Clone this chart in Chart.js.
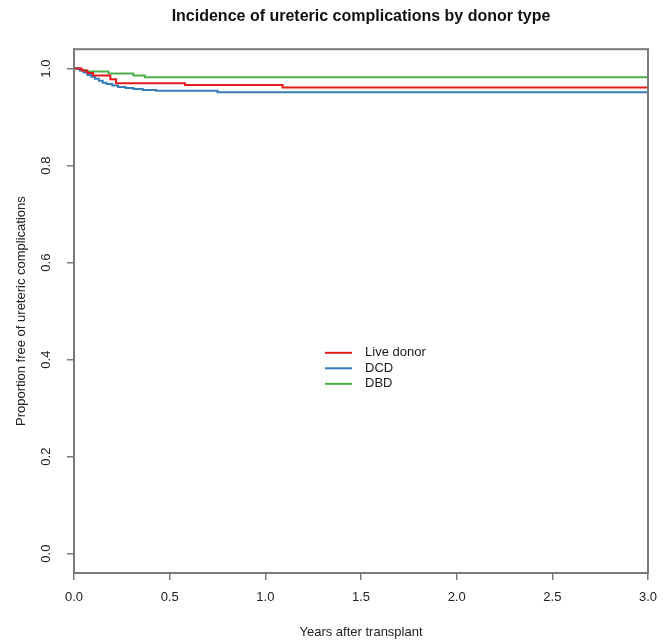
<!DOCTYPE html>
<html>
<head>
<meta charset="utf-8">
<script src="https://cdn.jsdelivr.net/npm/chart.js@4"></script>
<style>
  html, body { margin: 0; padding: 0; background: #fff; }
  #wrap { width: 669px; height: 640px; }
</style>
</head>
<body>
<div id="wrap"><canvas id="myChart"></canvas></div>
<script>
// Kaplan-Meier steps (years, proportion free)
const liveTimes = [0, 0.04, 0.07, 0.10, 0.19, 0.22, 0.58, 1.09, 3.0];
const liveValues = [1, 0.996, 0.991, 0.986, 0.978, 0.970, 0.966, 0.961, 0.961];

const dcdTimes = [0, 0.03, 0.05, 0.07, 0.09, 0.11, 0.13, 0.15, 0.17, 0.20, 0.23, 0.27, 0.31, 0.36, 0.43, 0.75, 3.0];
const dcdValues = [1, 0.996, 0.992, 0.987, 0.983, 0.979, 0.975, 0.971, 0.968, 0.965, 0.962, 0.960, 0.958, 0.956, 0.9545, 0.951, 0.951];

const dbdTimes = [0, 0.03, 0.06, 0.18, 0.31, 0.37, 3.0];
const dbdValues = [1, 0.997, 0.994, 0.990, 0.986, 0.982, 0.982];

const xTicks = [0, 0.5, 1.0, 1.5, 2.0, 2.5, 3.0];
const yTicks = [0, 0.2, 0.4, 0.6, 0.8, 1.0];

function toPoints(times, values) {
    return times.map((t, i) => ({x: t, y: values[i]}));
}

const axisGrey = '#7a7a7a';
const font = 'Liberation Sans, Arial, Helvetica, sans-serif';

// R-style box around the plot region
const boxPlugin = {
    id: 'box',
    afterDraw(chart) {
        const {ctx, chartArea} = chart;
        ctx.save();
        ctx.strokeStyle = axisGrey;
        ctx.lineWidth = 2;
        ctx.strokeRect(chartArea.left, chartArea.top, chartArea.right - chartArea.left, chartArea.bottom - chartArea.top);
        ctx.restore();
    }
};

// legend drawn inside the plot, like legend(x, y, ...) in R
const innerLegend = {
    id: 'innerLegend',
    afterDatasetsDraw(chart) {
        const {ctx, scales} = chart;
        const x0 = scales.x.getPixelForValue(1.312);
        const y0 = scales.y.getPixelForValue(0.414);
        ctx.save();
        ctx.font = '13px ' + font;
        ctx.textBaseline = 'middle';
        chart.data.datasets.forEach((ds, i) => {
            const y = y0 + i * 15.5;
            ctx.strokeStyle = ds.borderColor;
            ctx.lineWidth = 2;
            ctx.beginPath();
            ctx.moveTo(x0, y);
            ctx.lineTo(x0 + 27, y);
            ctx.stroke();
            ctx.fillStyle = '#1a1a1a';
            ctx.fillText(ds.label, x0 + 40, y);
        });
        ctx.restore();
    }
};

const data = {
    datasets: [
        {
            label: 'Live donor',
            data: toPoints(liveTimes, liveValues),
            borderColor: '#E41A1C',
        },
        {
            label: 'DCD',
            data: toPoints(dcdTimes, dcdValues),
            borderColor: '#377EB8',
        },
        {
            label: 'DBD',
            data: toPoints(dbdTimes, dbdValues),
            borderColor: '#4DAF4A',
        }
    ]
};

const config = {
    type: 'line',
    data: data,
    options: {
        responsive: true,
        maintainAspectRatio: false,
        animation: false,
        layout: {padding: {left: 0, right: 21, top: 0, bottom: 0}},
        elements: {
            line: {borderWidth: 2, stepped: true, tension: 0},
            point: {radius: 0}
        },
        scales: {
            x: {
                type: 'linear',
                min: 0,
                max: 3,
                afterBuildTicks: (scale) => { scale.ticks = xTicks.map(v => ({value: v})); },
                afterFit: (scale) => { scale.height = 67; },
                border: {display: true, color: axisGrey, width: 2},
                grid: {drawOnChartArea: false, drawTicks: true, tickLength: 7, color: axisGrey, lineWidth: 1.5},
                ticks: {
                    color: '#222',
                    font: {family: font, size: 13},
                    padding: 10,
                    maxRotation: 0,
                    autoSkip: false,
                    callback: (v) => v.toFixed(1)
                },
                title: {
                    display: true,
                    text: 'Years after transplant',
                    color: '#222',
                    font: {family: font, size: 13},
                    padding: {top: 16, bottom: 0}
                }
            },
            y: {
                type: 'linear',
                min: -0.04,
                max: 1.04,
                afterBuildTicks: (scale) => { scale.ticks = yTicks.map(v => ({value: v})); },
                afterFit: (scale) => { scale.width = 74; },
                border: {display: true, color: axisGrey, width: 2},
                grid: {drawOnChartArea: false, drawTicks: true, tickLength: 7, color: axisGrey, lineWidth: 1.5},
                ticks: {
                    color: '#222',
                    font: {family: font, size: 13},
                    padding: 12,
                    crossAlign: 'center',
                    minRotation: 90,
                    maxRotation: 90,
                    autoSkip: false,
                    callback: (v) => v.toFixed(1)
                },
                title: {
                    display: true,
                    text: 'Proportion free of ureteric complications',
                    color: '#222',
                    font: {family: font, size: 13},
                    padding: {top: 14, bottom: 10}
                }
            }
        },
        plugins: {
            legend: {display: false},
            tooltip: {enabled: false},
            title: {
                display: true,
                fullSize: false,
                text: 'Incidence of ureteric complications by donor type',
                color: '#111',
                font: {family: font, size: 16, weight: 'bold'},
                padding: {top: 7, bottom: 23}
            }
        }
    },
    plugins: [boxPlugin, innerLegend]
};

const ctx = document.getElementById('myChart');
const myChart = new Chart(ctx, config);
</script>
</body>
</html>
